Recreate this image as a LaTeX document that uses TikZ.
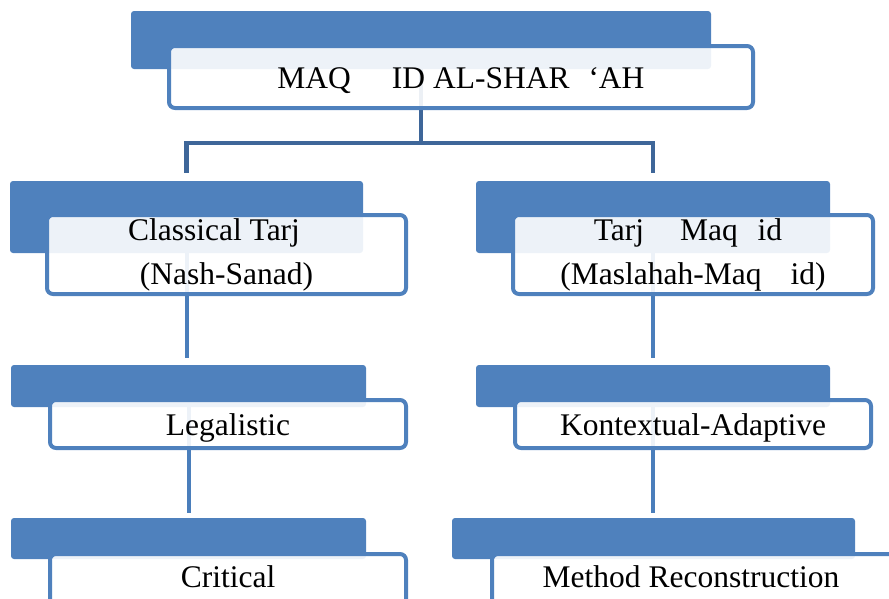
\documentclass[tikz,border=0pt]{standalone}
\usepackage{fontspec}
\setmainfont{Liberation Serif}
\usetikzlibrary{calc,backgrounds}
\definecolor{accent}{HTML}{4F81BD}
\definecolor{conndark}{HTML}{3E6699}
\definecolor{connblue}{HTML}{4A7EBB}
\begin{document}
\begin{tikzpicture}[x=1pt,y=1pt,
  bluebox/.style={fill=accent, draw=none, rounded corners=3pt, inner sep=0pt, outer sep=0pt},
  whitebox/.style={draw=accent, line width=4pt, fill=white, fill opacity=0.9, text opacity=1,
    draw opacity=1, rounded corners=6pt, inner sep=0pt, outer sep=0pt,
    font=\fontsize{31.5}{44}\selectfont, align=center, text=black},
  oneline/.style={text height=22.5pt, text depth=0.5pt},
  lowline/.style={text height=19.5pt, text depth=5.5pt},
  topconn/.style={draw=conndark, line width=4.5pt},
  conn/.style={draw=connblue, line width=4pt},
]
\useasboundingbox (0,0) rectangle (889,-598);
\clip (0,0) rectangle (889,-598);

% level 0
\node[bluebox, minimum width=580pt, minimum height=58pt] (b0) at (421,-40) {};
\node[whitebox, oneline, minimum width=584pt, minimum height=62pt] (w0) at (461,-77)
  {MAQ\hspace{41pt}ID AL-SHAR\hspace{19pt}‘AH};

% level 1
\node[bluebox, minimum width=353pt, minimum height=72pt] (b1) at (186.5,-217) {};
\node[whitebox, minimum width=359pt, minimum height=79pt] (w1) at (226.5,-254.5)
  {Classical Tarj\makebox[25pt]{}\\(Nash-Sanad)};
\node[bluebox, minimum width=354pt, minimum height=72pt] (b2) at (653,-217) {};
\node[whitebox, minimum width=360pt, minimum height=79pt] (w2) at (693,-254.5)
  {Tarj\hspace{36pt}Maq\hspace{20pt}id\makebox[10pt]{}\\(Maslahah-Maq\hspace{29pt}id)};

% level 2
\node[bluebox, minimum width=355pt, minimum height=42pt] (b3) at (188.5,-386) {};
\node[whitebox, oneline, minimum width=356pt, minimum height=48pt] (w3) at (228,-424) {Legalistic};
\node[bluebox, minimum width=354pt, minimum height=42pt] (b4) at (653,-386) {};
\node[whitebox, oneline, minimum width=356pt, minimum height=48pt] (w4) at (693,-424) {Kontextual-Adaptive};

% level 3
\node[bluebox, minimum width=355pt, minimum height=41pt] (b5) at (188.5,-538.5) {};
\node[whitebox, lowline, minimum width=356pt, minimum height=52pt] (w5) at (228,-580) {Critical};
\node[bluebox, minimum width=403pt, minimum height=41pt] (b6) at (653.5,-538.5) {};
\node[whitebox, lowline, minimum width=406pt, minimum height=52pt] (w6) at (695,-580)
  {Method Reconstruction\makebox[8pt]{}};

\begin{scope}[on background layer]
  \coordinate (j0) at (421,-143);
  \draw[topconn] (b0.center) -- (j0) -| ([yshift=8pt]b1.north);
  \draw[topconn] (j0) -| ([yshift=8pt]b2.north);
  \draw[conn] (b1.center) -- ($(b1.center |- b3.north)+(0,7)$);
  \draw[conn] (b2.center) -- ($(b2.center |- b4.north)+(0,7)$);
  \draw[conn] (b3.center) -- ($(b3.center |- b5.north)+(0,5)$);
  \draw[conn] (b4.center) -- ($(b4.center |- b6.north)+(0,5)$);
\end{scope}
\end{tikzpicture}
\end{document}
